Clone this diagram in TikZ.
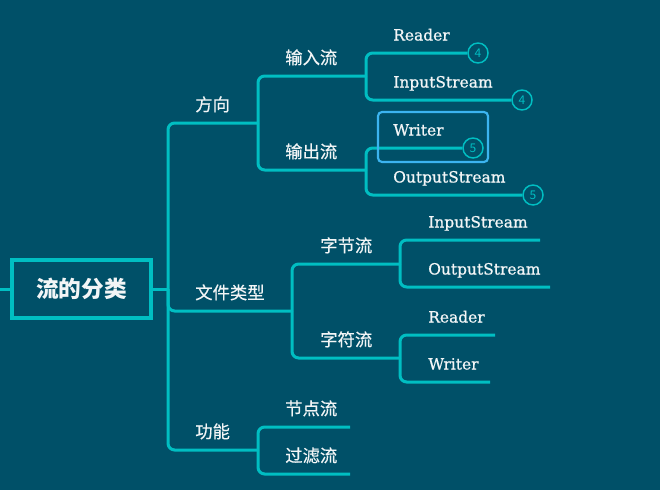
\documentclass[tikz,border=0pt]{standalone}
\usepackage{fontspec}
\setmainfont{DejaVu Serif}
\newfontfamily\eng[FakeBold=0.8]{DejaVu Serif}
\newfontfamily\cjk{Noto Sans CJK SC}
\newfontfamily\cjkmid[FakeBold=0.4]{Noto Sans CJK SC}
\usetikzlibrary{positioning}
\definecolor{bgteal}{RGB}{0,80,104}
\definecolor{lineteal}{RGB}{0,190,194}
\definecolor{selblue}{RGB}{60,180,240}
\definecolor{txtwhite}{RGB}{242,245,246}

\begin{document}
\begin{tikzpicture}[x=0.75pt,y=-0.75pt,
  branch/.style={draw=lineteal,line width=2.25pt,rounded corners=5pt},
  topic/.style={anchor=base west,inner sep=0pt,text=txtwhite,font=\cjkmid\fontsize{13}{15}\selectfont},
  leaf/.style={anchor=base west,inner sep=0pt,text=txtwhite,font=\eng\fontsize{11.6}{14}\selectfont},
  badge/.style={circle,draw=lineteal,line width=1.1pt,fill=bgteal,minimum size=15pt,inner sep=0pt,text=lineteal,font=\cjk\fontsize{9}{10}\selectfont}]
  \useasboundingbox (0,0) rectangle (660,489);
  \fill[bgteal] (-5,-5) rectangle (665,494);

  % root
  \node[draw=lineteal,line width=2.6pt,minimum width=104pt,minimum height=43.5pt,
        text=txtwhite,font=\cjk\bfseries\fontsize{17}{20}\selectfont] (root) at (81.5,289) {流的分类};
  \coordinate (lin) at (-2,289);
  \coordinate (s0) at (168,289);
  \draw[branch] (lin) -- (root);
  \draw[branch] (root) -- (s0);

  % first level
  \coordinate (dirj) at (258,123);
  \coordinate (typj) at (292,311);
  \coordinate (funj) at (258,450);
  \draw[branch] (s0) |- (dirj);
  \draw[branch] (s0) |- (typj);
  \draw[branch] (s0) |- (funj);
  \node[topic] (dir) at (195,111) {方向};
  \node[topic] (typ) at (195,299) {文件类型};
  \node[topic] (fun) at (195,438) {功能};

  % direction
  \coordinate (inj) at (366,76);
  \coordinate (outj) at (366,170);
  \draw[branch] (dirj) |- (inj);
  \draw[branch] (dirj) |- (outj);
  \node[topic] (in) at (285,64) {输入流};
  \node[topic] (out) at (285,158) {输出流};
  \node[badge] (rd4) at (478,53) {4};
  \node[badge] (is4) at (522,100) {4};
  \node[badge] (wr5) at (473,148) {5};
  \node[badge] (os5) at (533,195) {5};
  \draw[branch] (inj) |- (rd4);
  \draw[branch] (inj) |- (is4);
  \draw[branch] (outj) |- (wr5);
  \draw[branch] (outj) |- (os5);
  \node[leaf] (rd) at (393,40.5) {Reader};
  \node[leaf] (is) at (393,87.5) {InputStream};
  \node[leaf] (wr) at (393,135.5) {Writer};
  \node[leaf] (os) at (393,182.5) {OutputStream};
  \draw[selblue,line width=1.6pt,rounded corners=3pt] (378,112) rectangle (488,162);

  % file type
  \coordinate (bytj) at (400,264);
  \coordinate (chrj) at (400,358);
  \draw[branch] (typj) |- (bytj);
  \draw[branch] (typj) |- (chrj);
  \node[topic] (byt) at (320,252) {字节流};
  \node[topic] (chr) at (320,346) {字符流};
  \coordinate (bise) at (540,240);
  \coordinate (bose) at (550,287);
  \coordinate (crde) at (495,335);
  \coordinate (cwre) at (490,382);
  \draw[branch] (bytj) |- (bise);
  \draw[branch] (bytj) |- (bose);
  \draw[branch] (chrj) |- (crde);
  \draw[branch] (chrj) |- (cwre);
  \node[leaf] (bis) at (428,227.5) {InputStream};
  \node[leaf] (bos) at (428,274.5) {OutputStream};
  \node[leaf] (crd) at (428,322.5) {Reader};
  \node[leaf] (cwr) at (428,369.5) {Writer};

  % function
  \coordinate (node-e) at (350,427);
  \coordinate (filt-e) at (350,474);
  \draw[branch] (funj) |- (node-e);
  \draw[branch] (funj) |- (filt-e);
  \node[topic] (nodes) at (285,415) {节点流};
  \node[topic] (filt) at (285,462) {过滤流};
\end{tikzpicture}
\end{document}
